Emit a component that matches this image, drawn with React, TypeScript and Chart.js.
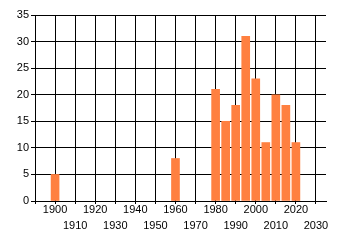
import React, { useEffect, useRef } from "react";
import { Chart, registerables } from "chart.js";

Chart.register(...registerables);

const years = [1900, 1960, 1980, 1985, 1990, 1995, 2000, 2005, 2010, 2015, 2020];
const counts = [5, 8, 21, 15, 18, 31, 23, 11, 20, 18, 11];
const xTicks = [1890, 1900, 1910, 1920, 1930, 1940, 1950, 1960, 1970, 1980, 1990, 2000, 2010, 2020, 2030];
const yTicks = [0, 5, 10, 15, 20, 25, 30, 35];

export default function App() {
  const ref = useRef<HTMLCanvasElement>(null);
  useEffect(() => {
    document.body.style.margin = "0";
    const font = { family: "'Liberation Sans', Arial, sans-serif", size: 11 };
    const chart = new Chart(ref.current!, {
      type: "bar",
      data: {
        datasets: [
          {
            data: years.map((y, i) => ({ x: y, y: counts[i] })),
            backgroundColor: "#FF8040",
            borderWidth: 0,
            barThickness: 8,
          },
        ],
      },
      options: {
        animation: false,
        responsive: false,
        maintainAspectRatio: false,
        layout: { padding: { left: 0, right: 14, top: 15, bottom: 0 } },
        plugins: { legend: { display: false }, tooltip: { enabled: false } },
        scales: {
          x: {
            type: "linear",
            min: 1890,
            max: 2035,
            offset: false,
            grid: { color: "#000", lineWidth: 1, tickLength: 3, offset: false },
            border: { color: "#000", width: 1 },
            afterBuildTicks: (s: any) => {
              s.ticks = xTicks.map((v) => ({ value: v }));
            },
            afterFit: (s: any) => {
              s.height = 44;
            },
            ticks: {
              color: "#000",
              font: { ...font, lineHeight: "16px" } as any,
              padding: -2,
              maxRotation: 0,
              autoSkip: false,
              callback: (v: any) => {
                const n = Number(v);
                if (n === 1890) return "";
                return ((n - 1900) / 10) % 2 === 0 ? String(n) : ["", String(n)];
              },
            },
          },
          y: {
            min: 0,
            max: 35,
            grid: { color: "#000", lineWidth: 1, tickLength: 4 },
            border: { color: "#000", width: 1 },
            afterBuildTicks: (s: any) => {
              s.ticks = yTicks.map((v) => ({ value: v }));
            },
            afterFit: (s: any) => {
              s.width = 35;
            },
            ticks: { color: "#000", font, padding: 2 },
          },
        },
      },
    });
    return () => chart.destroy();
  }, []);
  return (
    <div style={{ width: 340, height: 245 }}>
      <canvas ref={ref} width={340} height={245} style={{ display: "block" }} />
    </div>
  );
}
